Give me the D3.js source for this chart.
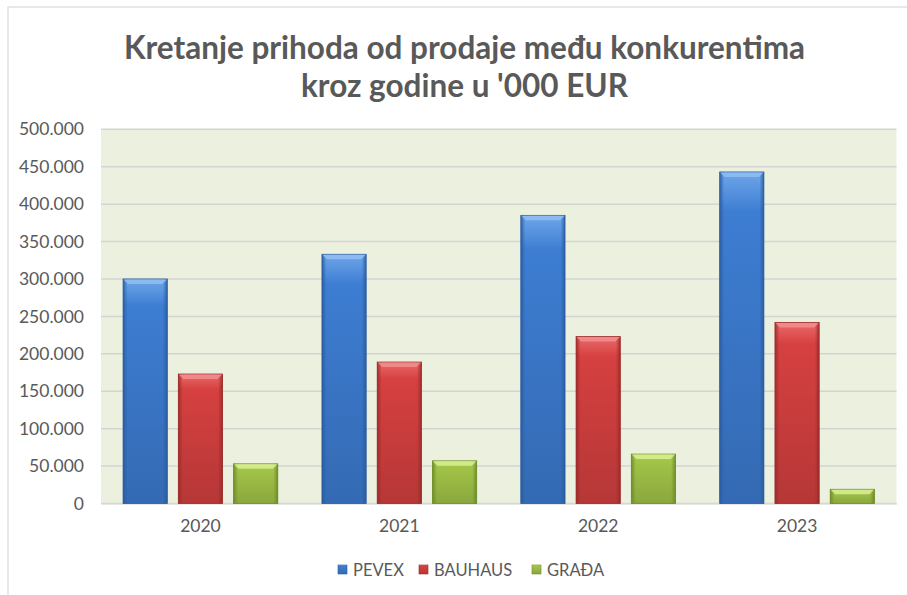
<!DOCTYPE html>
<html>
<head>
<meta charset="utf-8">
<script src="https://cdn.jsdelivr.net/npm/d3@7"></script>
<style>
  html, body { margin: 0; padding: 0; background: #fff; }
  svg { display: block; }
</style>
</head>
<body>
<svg id="chart" width="907" height="595"></svg>
<script>
// ---- data ----
const categories = ["2020", "2021", "2022", "2023"];
const seriesNames = ["PEVEX", "BAUHAUS", "GRAĐA"];
const pevex   = [300000, 333000, 385000, 443000];
const bauhaus = [173000, 189000, 223000, 242000];
const grada   = [53000, 57000, 66000, 19000];
const yTicks  = [0, 50000, 100000, 150000, 200000, 250000, 300000, 350000, 400000, 450000, 500000];
const titleLines = ["Kretanje prihoda od prodaje među konkurentima", "kroz godine u '000 EUR"];

const seriesValues = [pevex, bauhaus, grada];
const palette = [
  { main: "#3d7dd2", light: "#6fa6ea", dark: "#2a5b9f", top: "#8fbdf2" },
  { main: "#d64040", light: "#ea6a6a", dark: "#9a2a2a", top: "#f08d8d" },
  { main: "#a2c448", light: "#c4de70", dark: "#6c8a26", top: "#d6ec8e" }
];

const svg = d3.select("#chart");
const W = 907, H = 595;
const plot = { left: 101, right: 896.5, top: 129.3, bottom: 503.5 };
const font = "Lato, 'Open Sans', sans-serif";
const textColor = "#595959";

// chart frame
svg.append("rect").attr("x", 8).attr("y", 7).attr("width", W + 20).attr("height", H + 20)
  .attr("fill", "#fff").attr("stroke", "#d9d9d9").attr("stroke-width", 1.2);

// gradients
const defs = svg.append("defs");
palette.forEach((c, i) => {
  const v = defs.append("linearGradient").attr("id", "v" + i)
    .attr("x1", 0).attr("y1", 0).attr("x2", 0).attr("y2", 1);
  v.append("stop").attr("offset", "0%").attr("stop-color", c.light);
  v.append("stop").attr("offset", "12%").attr("stop-color", c.main);
  v.append("stop").attr("offset", "100%").attr("stop-color", d3.color(c.main).darker(0.45));
  const h = defs.append("linearGradient").attr("id", "h" + i)
    .attr("x1", 0).attr("y1", 0).attr("x2", 1).attr("y2", 0);
  h.append("stop").attr("offset", "0%").attr("stop-color", c.dark).attr("stop-opacity", 0.9);
  h.append("stop").attr("offset", "10%").attr("stop-color", c.dark).attr("stop-opacity", 0.0);
  h.append("stop").attr("offset", "90%").attr("stop-color", c.dark).attr("stop-opacity", 0.0);
  h.append("stop").attr("offset", "100%").attr("stop-color", c.dark).attr("stop-opacity", 0.9);
});

// scales
const x0 = d3.scaleBand().domain(categories).range([plot.left, plot.right])
  .paddingInner(0.222).paddingOuter(0.111);
const x1 = d3.scaleBand().domain(seriesNames).range([0, x0.bandwidth()])
  .paddingInner(0.2).paddingOuter(0);
const y = d3.scaleLinear().domain([0, 500000]).range([plot.bottom, plot.top]);

// plot background
svg.append("rect").attr("x", plot.left).attr("y", plot.top)
  .attr("width", plot.right - plot.left).attr("height", plot.bottom - plot.top)
  .attr("fill", "#ebf1de");

// gridlines
svg.append("g").selectAll("line").data(yTicks).join("line")
  .attr("x1", plot.left).attr("x2", plot.right)
  .attr("y1", d => y(d)).attr("y2", d => y(d))
  .attr("stroke", "#d4d4d4").attr("stroke-width", 1.5);

// y axis
const fmt = d => d3.format(",")(d).replace(/,/g, ".");
const yAxis = d3.axisLeft(y).tickValues(yTicks).tickFormat(fmt).tickSize(0).tickPadding(17);
const yg = svg.append("g").attr("transform", `translate(${plot.left},0)`).call(yAxis);
yg.select(".domain").remove();
yg.selectAll("text").attr("fill", textColor).style("font-family", font).style("font-size", "17.5px");

// x axis
const xAxis = d3.axisBottom(x0).tickSize(0).tickPadding(16);
const xg = svg.append("g").attr("transform", `translate(0,${plot.bottom})`).call(xAxis);
xg.select(".domain").attr("stroke", "#d9d9d9").attr("stroke-width", 1.2);
xg.selectAll("text").attr("fill", textColor).style("font-family", font).style("font-size", "17.5px");

// bars
const rows = [];
categories.forEach((cat, ci) => {
  seriesNames.forEach((s, si) => rows.push({ cat, s, si, v: seriesValues[si][ci] }));
});
const bars = svg.append("g").selectAll("g").data(rows).join("g");
bars.append("rect")
  .attr("x", d => x0(d.cat) + x1(d.s)).attr("y", d => y(d.v))
  .attr("width", x1.bandwidth()).attr("height", d => y(0) - y(d.v))
  .attr("fill", d => `url(#v${d.si})`);
bars.append("rect")
  .attr("x", d => x0(d.cat) + x1(d.s)).attr("y", d => y(d.v))
  .attr("width", x1.bandwidth()).attr("height", d => y(0) - y(d.v))
  .attr("fill", d => `url(#h${d.si})`)
  .attr("stroke", d => palette[d.si].dark).attr("stroke-width", 0.8);
// top bevel
const bev = 5;
bars.append("path")
  .attr("d", d => {
    const xl = x0(d.cat) + x1(d.s), xr = xl + x1.bandwidth(), yt = y(d.v);
    return `M${xl + 0.5},${yt + 0.5} L${xr - 0.5},${yt + 0.5} L${xr - bev},${yt + bev} L${xl + bev},${yt + bev} Z`;
  })
  .attr("fill", d => palette[d.si].top).attr("opacity", 0.9);

// title
svg.append("g").selectAll("text").data(titleLines).join("text")
  .attr("x", W / 2 + 11).attr("y", (d, i) => 59 + i * 38)
  .attr("text-anchor", "middle")
  .attr("fill", textColor)
  .style("font-family", font).style("font-weight", "bold").style("font-size", "31.5px")
  .text(d => d);

// legend
const legendX = [338, 419, 532];
const lg = svg.append("g").selectAll("g").data(seriesNames).join("g")
  .attr("transform", (d, i) => `translate(${legendX[i]},565)`);
lg.append("rect").attr("width", 9).attr("height", 9)
  .attr("fill", (d, i) => `url(#v${i})`)
  .attr("stroke", (d, i) => palette[i].dark).attr("stroke-width", 0.6);
lg.append("text").attr("x", 15).attr("y", 10.5)
  .attr("fill", textColor).style("font-family", font).style("font-size", "16.5px")
  .text(d => d);
</script>
</body>
</html>
